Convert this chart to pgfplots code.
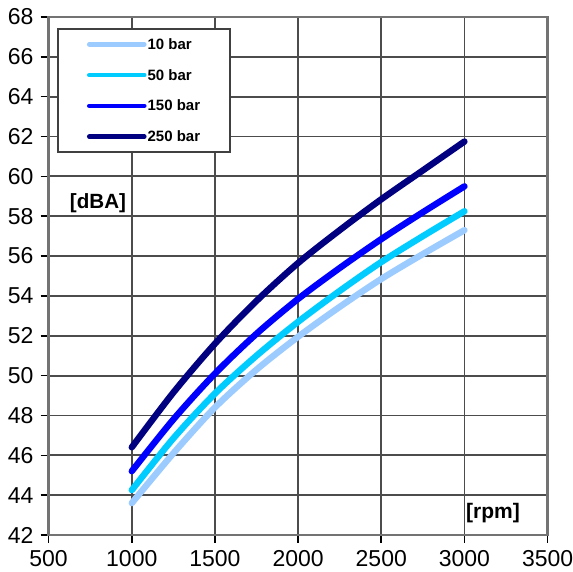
\documentclass[border=0pt]{standalone}
\usepackage{pgfplots}
\pgfplotsset{compat=1.18}
\usepackage{fontspec}
\setmainfont{Liberation Sans}
\definecolor{cLight}{HTML}{9CCBFF}
\definecolor{cCyan}{HTML}{00CCFF}
\definecolor{cBlue}{HTML}{0000FF}
\definecolor{cNavy}{HTML}{000080}
\begin{document}
\begin{tikzpicture}
\begin{axis}[
  name=ax,
  scale only axis,
  width=249.5pt, height=259pt,
  xmin=500, xmax=3500, ymin=42, ymax=68,
  xtick={500,1000,...,3500},
  ytick={42,44,...,68},
  grid=major,
  major grid style={black!70, line width=0.9pt},
  axis line style={black!55, line width=1.4pt},
  tick pos=left,
  tick align=outside,
  major tick length=4pt,
  tick style={black, line width=0.8pt},
  tick label style={font=\fontsize{11.5}{13}\selectfont},
  /pgf/number format/assume math mode=true,
  /pgf/number format/set thousands separator={},
  legend cell align=left,
  legend image code/.code={\draw[#1, line width=2.3pt] (0pt,0pt) -- (27.5pt,0pt);},
  legend style={
    at={(0.0168,0.979)}, anchor=north west,
    draw=black!75, line width=1pt, fill=white,
    inner xsep=14.5pt, inner ysep=4.2pt,
    row sep=8.4pt,
    font=\fontsize{7.5}{8}\selectfont\bfseries,
    nodes={inner xsep=0.5pt, inner ysep=1pt, text height=5pt, text depth=0pt},
  },
  every axis plot/.append style={line width=3.2pt, line cap=round, smooth},
]
\addplot[cLight] coordinates {
 (1000,43.6) (1250,46.1) (1500,48.4) (1750,50.3) (2000,51.95) (2250,53.45) (2500,54.85) (2750,56.1) (3000,57.3)};
\addlegendentry{10 bar}
\addplot[cCyan] coordinates {
 (1000,44.25) (1250,46.85) (1500,49.1) (1750,51.0) (2000,52.7) (2250,54.25) (2500,55.7) (2750,57.0) (3000,58.25)};
\addlegendentry{50 bar}
\addplot[cBlue] coordinates {
 (1000,45.2) (1250,47.8) (1500,50.1) (1750,52.1) (2000,53.85) (2250,55.4) (2500,56.85) (2750,58.2) (3000,59.5)};
\addlegendentry{150 bar}
\addplot[cNavy] coordinates {
 (1000,46.4) (1250,49.15) (1500,51.6) (1750,53.75) (2000,55.65) (2250,57.3) (2500,58.85) (2750,60.3) (3000,61.75)};
\addlegendentry{250 bar}
\node[font=\fontsize{10.3}{12}\selectfont\bfseries] at (axis cs:797,58.66) {[dBA]};
\node[font=\fontsize{10.5}{12}\selectfont\bfseries] at (axis cs:3172,43.1) {[rpm]};
\end{axis}
\pgfresetboundingbox
\path ([shift={(-24.3pt,-18.5pt)}]ax.south west) rectangle ([shift={(12.2pt,8.5pt)}]ax.north east);
\end{tikzpicture}
\end{document}
